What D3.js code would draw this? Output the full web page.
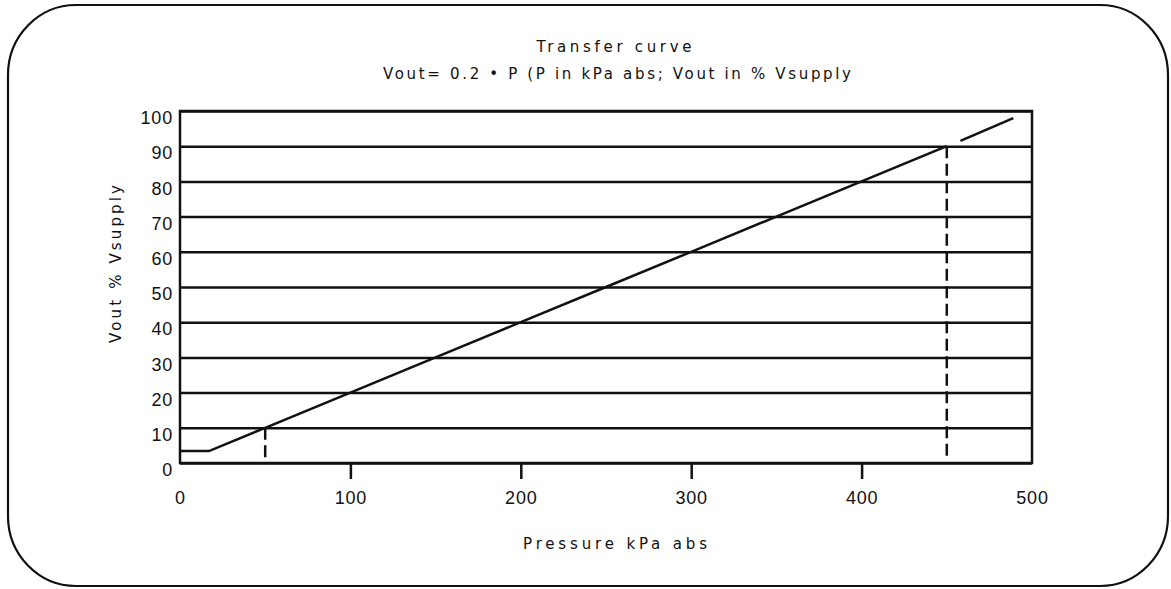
<!DOCTYPE html>
<html lang="en">
<head>
    <meta charset="utf-8">
    <title>Transfer curve</title>
    <script type="text/javascript" src="https://d3js.org/d3.v7.min.js"></script>
    <style>
     body { margin: 0; background: white; }
     svg text { font-family: "Liberation Sans", sans-serif; fill: #111; }
     .label { font-family: "DejaVu Sans", sans-serif; }
     .axisy text, .axisx text { font-size: 18px; letter-spacing: 0.8px; }
     .axisy .domain, .axisy line { display: none; }
     .axisx .domain { display: none; }
     .axisx line { stroke: #111; stroke-width: 2.5; }
     .grid line { stroke: #111; stroke-width: 2.5; }
     .grid .domain, .grid text { display: none; }
    </style>
</head>
<body>
    <div id="chart"></div>
    <script type="text/javascript">
        // values
        const xTicks = [0, 100, 200, 300, 400, 500];
        const yTicks = [0, 10, 20, 30, 40, 50, 60, 70, 80, 90, 100];
        // pressure (kPa abs) / Vout (% Vsupply) along the plotted curve
        const curveMain = [[0, 3.4], [17, 3.4], [50, 10], [100, 20], [150, 30], [200, 40],
                           [250, 50], [300, 60], [350, 70], [400, 80], [450, 90]];
        const curveTail = [[458, 91.5], [489, 98]];
        // dashed markers: pressure, vout
        const markerP = [50, 450];
        const markerV = [10, 90];

        const width = 1171;
        const height = 589;
        const marginLeft = 180;
        const marginRight = 139;
        const marginTop = 111;
        const marginBottom = 126;

        const svg = d3.select("#chart")
            .append("svg")
            .attr("width", width)
            .attr("height", height);

        // rounded page border
        svg.append("rect")
            .attr("x", 8).attr("y", 5)
            .attr("width", 1160).attr("height", 581)
            .attr("rx", 68).attr("ry", 70)
            .attr("fill", "none")
            .attr("stroke", "#111")
            .attr("stroke-width", 2.2);

        const xScale = d3.scaleLinear()
                    .domain([0, 500])
                    .range([marginLeft, width - marginRight]);
        const yScale = d3.scaleLinear()
                    .domain([0, 100])
                    .range([height - marginBottom, marginTop]);

        // horizontal grid lines
        svg.append("g")
            .attr("class", "grid")
            .attr("transform", "translate(" + marginLeft + ",0)")
            .call(d3.axisLeft(yScale).tickValues(yTicks)
                  .tickSize(-(width - marginRight - marginLeft)));

        // frame
        svg.append("rect")
            .attr("x", xScale(0)).attr("y", yScale(100))
            .attr("width", xScale(500) - xScale(0))
            .attr("height", yScale(0) - yScale(100))
            .attr("fill", "none")
            .attr("stroke", "#111")
            .attr("stroke-width", 2.5);

        const yAxis = d3.axisLeft(yScale)
                        .tickValues(yTicks)
                        .tickSize(0)
                        .tickPadding(7);
        svg.append("g")
            .attr("class", "axisy")
            .attr("transform", "translate(" + marginLeft + ",7)")
            .call(yAxis);

        const xAxis = d3.axisBottom(xScale)
                        .tickValues(xTicks)
                        .tickSize(16)
                        .tickPadding(12);
        const gx = svg.append("g")
            .attr("class", "axisx")
            .attr("transform", "translate(0," + yScale(0) + ")")
            .call(xAxis);
        gx.selectAll(".tick line").filter(d => d === 0 || d === 500).remove();

        // dashed markers
        svg.append("g")
            .selectAll("line")
            .data(markerP)
            .enter()
            .append("line")
                .attr("x1", d => xScale(d))
                .attr("x2", d => xScale(d))
                .attr("y1", (d, i) => yScale(markerV[i]))
                .attr("y2", yScale(0) - 4)
                .attr("stroke", "#111")
                .attr("stroke-width", 2.5)
                .attr("stroke-dasharray", "12,5.5");

        const line = d3.line()
            .x(d => xScale(d[0]))
            .y(d => yScale(d[1]));

        svg.append("g")
            .selectAll("path")
            .data([curveMain, curveTail])
            .enter()
            .append("path")
                .attr("d", line)
                .attr("fill", "none")
                .attr("stroke", "#111")
                .attr("stroke-width", 2.5);

        // titles
        svg.append("text")
            .attr("class", "label")
            .attr("x", 614).attr("y", 52)
            .attr("text-anchor", "middle")
            .attr("font-size", 15)
            .attr("textLength", 155)
            .attr("lengthAdjust", "spacing")
            .text("Transfer curve");
        svg.append("text")
            .attr("class", "label")
            .attr("x", 617).attr("y", 79)
            .attr("text-anchor", "middle")
            .attr("font-size", 15)
            .attr("textLength", 468)
            .attr("lengthAdjust", "spacing")
            .text("Vout= 0.2 \u2022 P (P in kPa abs; Vout in % Vsupply");

        svg.append("text")
            .attr("class", "label")
            .attr("x", 615).attr("y", 549)
            .attr("text-anchor", "middle")
            .attr("font-size", 15)
            .attr("textLength", 184)
            .attr("lengthAdjust", "spacing")
            .text("Pressure  kPa abs");

        svg.append("text")
            .attr("class", "label")
            .attr("transform", "translate(121,264) rotate(-90)")
            .attr("text-anchor", "middle")
            .attr("font-size", 15)
            .attr("textLength", 158)
            .attr("lengthAdjust", "spacing")
            .text("Vout  % Vsupply");
    </script>
</body>
</html>
